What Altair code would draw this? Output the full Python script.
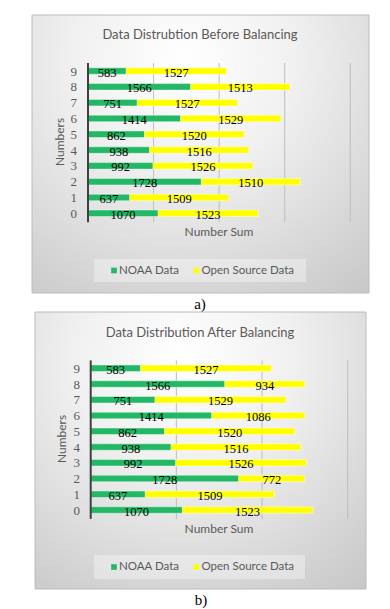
import altair as alt
import pandas as pd

# ---- data ----
digits = [str(d) for d in range(10)]
noaa = [1070, 637, 1728, 992, 938, 862, 1414, 751, 1566, 583]
open_before = [1523, 1509, 1510, 1526, 1516, 1520, 1529, 1527, 1513, 1527]
open_after = [1523, 1509, 772, 1526, 1516, 1520, 1086, 1529, 934, 1527]
series = ["NOAA Data", "Open Source Data"]
series_colors = ["#22B866", "#FFFF00"]
grid_before = [1000, 2000, 3000, 4000]
grid_after = [1000, 2000, 3000]
titles = ["Data Distrubtion Before Balancing", "Data Distribution After Balancing"]
x_title = "Number Sum"
y_title = "Numbers"
captions = ["a)", "b)"]

SANS = "Lato"
SERIF = "Liberation Serif"
GREY = "#595959"

gradient = {
    "gradient": "radial",
    "x1": 0.45, "y1": 0.22, "r1": 0,
    "x2": 0.45, "y2": 0.22, "r2": 0.95,
    "stops": [
        {"offset": 0, "color": "#ffffff"},
        {"offset": 0.35, "color": "#f0f0f0"},
        {"offset": 1, "color": "#c2c2c2"},
    ],
}

ONE = pd.DataFrame({"z": [0]})


def vtext(text, x, y, **kw):
    return alt.Chart(ONE).mark_text(**kw).encode(
        x=alt.value(x), y=alt.value(y), text=alt.value(text)
    )


def make_panel(title, caption, noaa_vals, open_vals, grid_vals, g):
    rows = []
    for d, a, b in zip(digits, noaa_vals, open_vals):
        rows.append({"digit": d, "series": series[0], "value": a, "start": 0, "end": a})
        rows.append({"digit": d, "series": series[1], "value": b, "start": a, "end": a + b})
    df = pd.DataFrame(rows)
    df["mid"] = (df["start"] + df["end"]) / 2

    xs = alt.Scale(domain=[0, g["xmax"]], range=[g["x0"], g["x1"]], nice=False, zero=True)
    ys = alt.Scale(domain=digits[::-1], range=[g["y0"], g["y1"]], paddingInner=0, paddingOuter=0)
    cs = alt.Scale(domain=series, range=series_colors)

    bg = alt.Chart(ONE).mark_rect(fill=gradient, stroke="#bcbcbc", strokeWidth=1).encode(
        x=alt.value(g["bx0"]), x2=alt.value(g["bx1"]),
        y=alt.value(g["by0"]), y2=alt.value(g["by1"]),
    )
    grid = alt.Chart(pd.DataFrame({"g": grid_vals})).mark_rule(color="#bdbdbd", strokeWidth=1).encode(
        x=alt.X("g:Q", scale=xs, axis=None),
        y=alt.value(g["y0"]), y2=alt.value(g["y1"] + 1),
    )
    bars = alt.Chart(df).mark_bar(size=6.5, stroke="#ffffff", strokeWidth=0.6, strokeOpacity=0.7).encode(
        x=alt.X("start:Q", scale=xs, axis=None),
        x2="end:Q",
        y=alt.Y("digit:N", scale=ys, axis=None),
        color=alt.Color("series:N", scale=cs, legend=None),
    )
    axis_line = alt.Chart(ONE).mark_rule(color="#404040", strokeWidth=2).encode(
        x=alt.X("z:Q", scale=xs, axis=None),
        y=alt.value(g["y0"]), y2=alt.value(g["y1"] + 1),
    )
    labels = alt.Chart(df).mark_text(font=SERIF, fontSize=12.5, color="#000000", baseline="middle", dy=1.5).encode(
        x=alt.X("mid:Q", scale=xs, axis=None),
        y=alt.Y("digit:N", scale=ys, axis=None),
        text="value:Q",
    )
    ylabels = alt.Chart(pd.DataFrame({"digit": digits})).mark_text(
        font=SERIF, fontSize=13, color=GREY, align="right", baseline="middle", dy=0.5
    ).encode(
        x=alt.value(g["ylab_x"]),
        y=alt.Y("digit:N", scale=ys, axis=None),
        text="digit:N",
    )
    ttl = vtext(title, g["tx"], g["ty"], font=SANS, fontSize=13, color=GREY, align="center", baseline="middle")
    ytl = vtext(y_title, g["ytx"], g["yty"], font=SANS, fontSize=12, color=GREY, align="center",
                baseline="middle", angle=270)
    xtl = vtext(x_title, g["xtx"], g["xty"], font=SANS, fontSize=12, color=GREY, align="center", baseline="middle")
    cap = vtext(caption, g["cx"], g["cy"], font=SERIF, fontSize=15, color="#000000", align="center", baseline="middle")

    lbox = alt.Chart(ONE).mark_rect(fill="#ffffff", fillOpacity=0.35).encode(
        x=alt.value(g["lx0"]), x2=alt.value(g["lx1"]),
        y=alt.value(g["ly0"]), y2=alt.value(g["ly1"]),
    )
    legend_layers = [lbox]
    ly = (g["ly0"] + g["ly1"]) / 2
    for name, sx in zip(series, g["sq_x"]):
        sdf = pd.DataFrame({"series": [name]})
        legend_layers.append(
            alt.Chart(sdf).mark_square(size=32, opacity=1).encode(
                x=alt.value(sx), y=alt.value(ly),
                color=alt.Color("series:N", scale=cs, legend=None),
            )
        )
        legend_layers.append(
            alt.Chart(sdf).mark_text(font=SANS, fontSize=11.5, color=GREY, align="left", baseline="middle").encode(
                x=alt.value(sx + 5), y=alt.value(ly), text="series:N"
            )
        )

    return alt.layer(bg, grid, bars, axis_line, labels, ylabels, ttl, ytl, xtl, *legend_layers, cap)


geom_a = dict(
    bx0=24, bx1=361, by0=7, by1=285,
    xmax=4000, x0=80, x1=342.3, y0=55.1, y1=213.2,
    tx=192, ty=27, ylab_x=69, ytx=52, yty=134, xtx=211, xty=224,
    lx0=86, lx1=298, ly0=251, ly1=274, sq_x=[106, 188.5],
    cx=192, cy=296,
)
geom_b = dict(
    bx0=27, bx1=358, by0=304, by1=581,
    xmax=3000, x0=82.7, x1=339.7, y0=352.4, y1=509.9,
    tx=192, ty=325, ylab_x=72, ytx=54, yty=431, xtx=211, xty=521,
    lx0=86, lx1=297, ly0=547, ly1=571, sq_x=[106, 188.5],
    cx=193, cy=592,
)

panel_a = make_panel(titles[0], captions[0], noaa, open_before, grid_before, geom_a)
panel_b = make_panel(titles[1], captions[1], noaa, open_after, grid_after, geom_b)

chart = alt.layer(panel_a, panel_b).resolve_scale(
    x="independent", y="independent", color="independent"
).properties(
    width=374, height=601, padding=0,
    autosize=alt.AutoSizeParams(type="none"),
).configure_view(stroke=None, fill=None)

chart.save("out.html", embed_options={"renderer": "svg", "actions": False})
